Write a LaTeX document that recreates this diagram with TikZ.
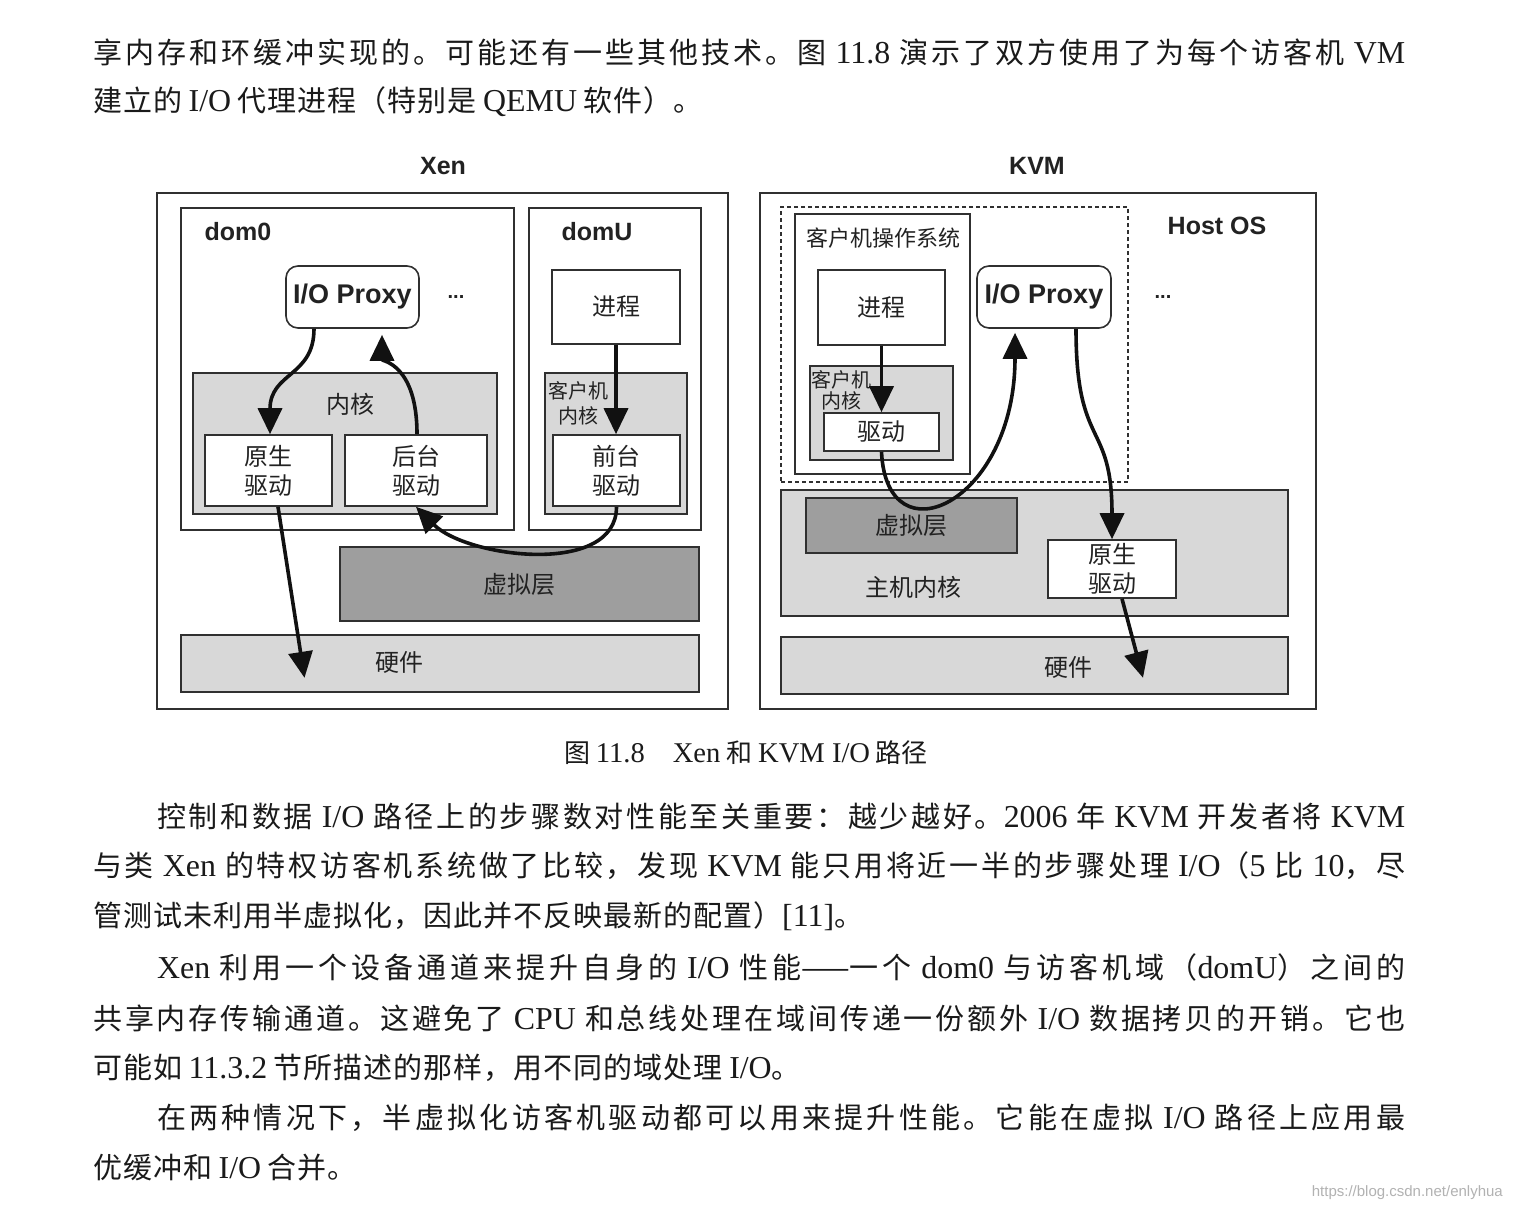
\documentclass[tikz,border=0pt]{standalone}
\usepackage{fontspec}
\setmainfont{Noto Sans CJK SC}
\newfontfamily\latf[Scale=1.1]{Liberation Serif}
\newfontfamily\hv{Liberation Sans}
\usetikzlibrary{arrows.meta}
\definecolor{lg}{HTML}{D8D8D8}
\definecolor{dg}{HTML}{9E9E9E}
\definecolor{ln}{HTML}{303030}
\definecolor{tx}{HTML}{222222}
\definecolor{ar}{HTML}{111111}
\definecolor{bt}{HTML}{1A1A1A}
\newcount\cjkc
\cjkc="3000 \loop\XeTeXcharclass\cjkc=7 \advance\cjkc by 1 \ifnum\cjkc<"3040 \repeat
\cjkc="4E00 \loop\XeTeXcharclass\cjkc=7 \advance\cjkc by 1 \ifnum\cjkc<"A000 \repeat
\cjkc="FF00 \loop\XeTeXcharclass\cjkc=7 \advance\cjkc by 1 \ifnum\cjkc<"FFF0 \repeat
\XeTeXinterchartoks 7 7 = {\hskip 1pt plus 2pt\relax}
\newcommand\ictok{\XeTeXinterchartokenstate=1\relax}
\newcommand\LL[1]{{\latf #1}}
\newcommand\jline[2]{\hbox to #1{\spaceskip=0.28em plus 1pt\relax #2}}
\begin{document}
\begin{tikzpicture}[x=1pt,y=-1pt,
 box/.style={draw=ln, line width=1.6pt, fill=white, inner sep=0pt, text=tx, align=center, font=\fontsize{24}{29}\selectfont},
 lgray/.style={box, fill=lg},
 dgray/.style={box, fill=dg},
 zh/.style={text=tx, font=\fontsize{24}{29}\selectfont, align=center, inner sep=0pt},
 zhs/.style={text=tx, font=\fontsize{20}{23}\selectfont, align=center, inner sep=0pt},
 lbl/.style={text=tx, font=\hv\bfseries\fontsize{25}{30}\selectfont, inner sep=0pt},
 arr/.style={draw=ar, line width=3.6pt, -{Triangle[length=26pt,width=24pt]}},
 body/.style={anchor=west, inner sep=0pt, text=bt, font=\fontsize{29}{36}\selectfont\ictok},
]
\path[use as bounding box, fill=white] (0,0) rectangle (1513,1211);

% ---------- top text ----------
\node[body] (t1) at (93,52) {\jline{1312pt}{享内存和环缓冲实现的。可能还有一些其他技术。图 \LL{11.8} 演示了双方使用了为每个访客机 \LL{VM}}};
\node[body] (t2) at (93,102) {建立的 \LL{I/O} 代理进程（特别是 \LL{QEMU} 软件）。};

% ---------- Xen ----------
\node[lbl] (xenT) at (443,166) {Xen};
\node[box, minimum width=571pt, minimum height=516pt] (xen) at (442.5,451) {};
\node[box, minimum width=333pt, minimum height=322pt] (dom0) at (347.5,369) {};
\node[box, minimum width=172pt, minimum height=322pt] (domU) at (615,369) {};
\node[lbl] (dom0T) at (238,232) {dom0};
\node[lbl] (domUT) at (597,232) {domU};
\node[box, rounded corners=12pt, minimum width=133pt, minimum height=62pt, font=\hv\bfseries\fontsize{27}{30}\selectfont] (pxX) at (352.5,297) {I/O Proxy};
\node[lbl, font=\hv\bfseries\fontsize{20}{24}\selectfont] (dotsX) at (456,297) {...};
\node[lgray, minimum width=304pt, minimum height=141pt] (kerX) at (345,443.5) {};
\node[zh] (kerXT) at (350,404) {内核};
\node[box, minimum width=127pt, minimum height=71pt] (natX) at (268.5,470.5) {原生\\驱动};
\node[box, minimum width=142pt, minimum height=71pt] (bakX) at (416,470.5) {后台\\驱动};
\node[box, minimum width=128pt, minimum height=74pt] (prX) at (616,307) {进程};
\node[lgray, minimum width=142pt, minimum height=141pt] (gkX) at (616,443.75) {};
\node[zhs, font=\fontsize{20}{25}\selectfont] (gkXT) at (578.5,403.5) {客户机\\内核};
\node[box, minimum width=127pt, minimum height=71pt] (frX) at (616.5,470.5) {前台\\驱动};
\node[dgray, minimum width=359pt, minimum height=74pt] (hyX) at (519.5,584) {虚拟层};
\node[lgray, minimum width=518pt, minimum height=57pt] (hwX) at (440,663.5) {};
\node[zh] (hwXT) at (399,662) {硬件};

% ---------- KVM ----------
\node[lbl] (kvmT) at (1037,166) {KVM};
\node[box, minimum width=556pt, minimum height=516pt] (kvm) at (1038,451) {};
\node[draw=ln, line width=1.4pt, dash pattern=on 4pt off 3pt, minimum width=347pt, minimum height=275pt, inner sep=0pt] (dsh) at (954.5,344.5) {};
\node[lbl] (hostT) at (1217,226) {Host OS};
\node[box, minimum width=175pt, minimum height=260pt] (gos) at (882.5,344) {};
\node[zh, font=\fontsize{22}{26}\selectfont] (gosT) at (883,238) {客户机操作系统};
\node[box, minimum width=127pt, minimum height=75pt] (prK) at (881.5,307.5) {进程};
\node[lgray, minimum width=143pt, minimum height=94pt] (gkK) at (881.5,413) {};
\node[zhs, font=\fontsize{20}{21}\selectfont] (gkKT) at (841,390.5) {客户机\\内核};
\node[box, minimum width=115pt, minimum height=38pt] (drK) at (881.5,432) {驱动};
\node[box, rounded corners=12pt, minimum width=134pt, minimum height=62pt, font=\hv\bfseries\fontsize{27}{30}\selectfont] (pxK) at (1044,297) {I/O Proxy};
\node[lbl, font=\hv\bfseries\fontsize{20}{24}\selectfont] (dotsK) at (1163,297) {...};
\node[lgray, minimum width=507pt, minimum height=126pt] (hkK) at (1034.5,553) {};
\node[dgray, minimum width=211pt, minimum height=55pt] (hyK) at (911.5,525.5) {虚拟层};
\node[zh] (hkKT) at (913,587) {主机内核};
\node[box, minimum width=128pt, minimum height=58pt] (naK) at (1112,569) {原生\\驱动};
\node[lgray, minimum width=507pt, minimum height=57pt] (hwK) at (1034.5,665.5) {};
\node[zh] (hwKT) at (1068,667) {硬件};

% ---------- arrows ----------
\draw[arr] ([xshift=-38.5pt]pxX.south) .. controls +(0,48) and +(0,-62) .. ([xshift=1.5pt]natX.north);
\draw[arr, shorten >=6pt] ([xshift=1pt]bakX.north) .. controls +(0,-70) and +(0,32) .. ([xshift=29.5pt]pxX.south);
\draw[arr] ([xshift=9.5pt]natX.south) -- ([xshift=-135.5pt,yshift=15pt]hwX.south);
\draw[arr] (prX.south) -- (prX.south |- frX.north);
\draw[arr] (frX.south) .. controls +(0,70) and +(51,51) .. (bakX.south);

\draw[arr] (prK.south) -- (prK.south |- drK.north);
\draw[arr, shorten >=4pt] (drK.south) .. controls +(5,110) and +(0,175) .. ([xshift=-29pt]pxK.south);
\draw[arr] ([xshift=32pt]pxK.south) .. controls +(0,122) and +(0,-120) .. (naK.north);
\draw[arr] ([xshift=10pt]naK.south) -- ([xshift=108.5pt,yshift=17pt]hwK.south);

% ---------- caption ----------
\node[inner sep=0pt, text=bt, font=\fontsize{26}{30}\selectfont] (cap) at (746,753) {图 \LL{11.8}\hspace{28pt}\LL{Xen} 和 \LL{KVM I/O} 路径};

% ---------- body text ----------
\node[body] (b1) at (157,816) {\jline{1248pt}{控制和数据 \LL{I/O} 路径上的步骤数对性能至关重要：越少越好。\LL{2006} 年 \LL{KVM} 开发者将 \LL{KVM}}};
\node[body] (b2) at (93,866) {\jline{1312pt}{与类 \LL{Xen} 的特权访客机系统做了比较，发现 \LL{KVM} 能只用将近一半的步骤处理 \LL{I/O}（\LL{5} 比 \LL{10}，尽}};
\node[body] (b3) at (93,916) {管测试未利用半虚拟化，因此并不反映最新的配置）\LL{[11]}。};
\node[body] (b4) at (157,967) {\jline{1248pt}{\LL{Xen} 利用一个设备通道来提升自身的 \LL{I/O} 性能——一个 \LL{dom0} 与访客机域（\LL{domU}）之间的}};
\node[body] (b5) at (93,1018) {\jline{1312pt}{共享内存传输通道。这避免了 \LL{CPU} 和总线处理在域间传递一份额外 \LL{I/O} 数据拷贝的开销。它也}};
\node[body] (b6) at (93,1068) {可能如 \LL{11.3.2} 节所描述的那样，用不同的域处理 \LL{I/O}。};
\node[body] (b7) at (157,1118) {\jline{1248pt}{在两种情况下，半虚拟化访客机驱动都可以用来提升性能。它能在虚拟 \LL{I/O} 路径上应用最}};
\node[body] (b8) at (93,1168) {优缓冲和 \LL{I/O} 合并。};

\node[anchor=east, inner sep=0pt, text=gray!60, font=\hv\fontsize{15}{18}\selectfont] (wm) at (1503,1193) {https://blog.csdn.net/enlyhua};
\end{tikzpicture}
\end{document}
